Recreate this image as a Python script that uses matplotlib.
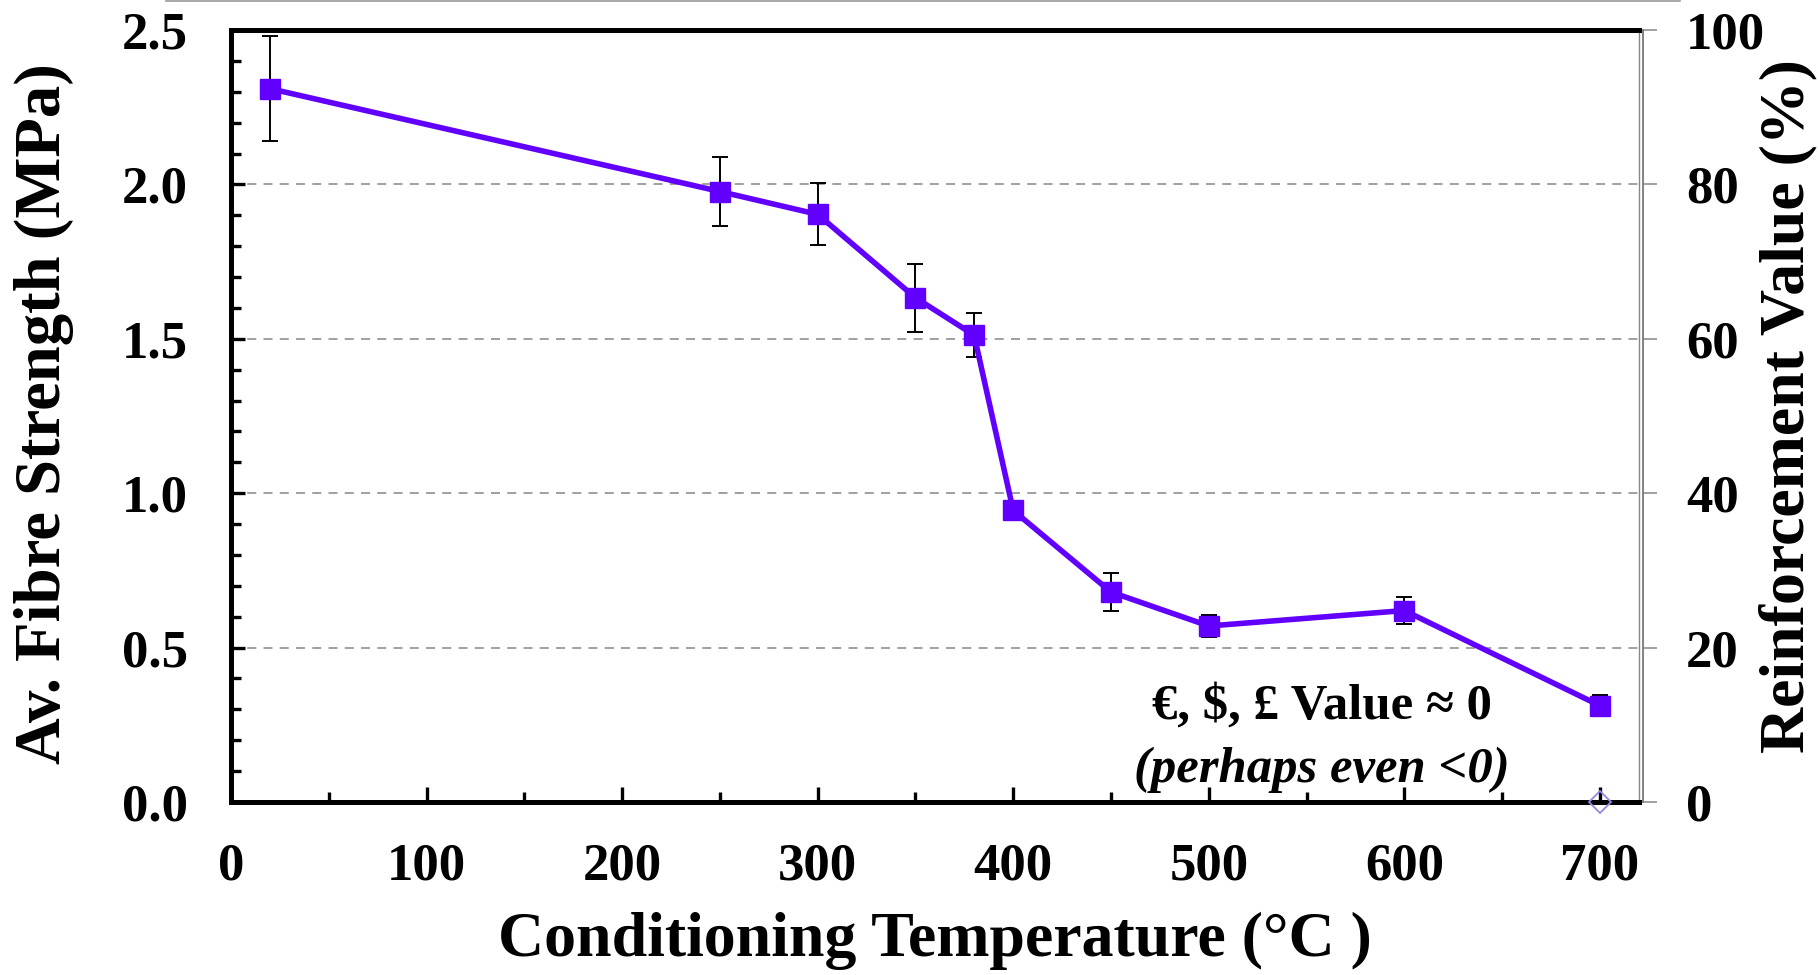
import matplotlib
matplotlib.use("Agg")
import matplotlib.pyplot as plt
from matplotlib.ticker import MultipleLocator
from matplotlib.lines import Line2D

temperature = [20, 250, 300, 350, 380, 400, 450, 500, 600, 700]
strength = [2.31, 1.977, 1.903, 1.633, 1.512, 0.944, 0.680, 0.570, 0.620, 0.312]
strength_err = [0.17, 0.113, 0.10, 0.11, 0.071, 0.03, 0.06, 0.035, 0.045, 0.035]
value_x = [700]
value_pct = [0]

x_ticks = [0, 100, 200, 300, 400, 500, 600, 700]
y_ticks = [0.0, 0.5, 1.0, 1.5, 2.0, 2.5]
y2_ticks = [0, 20, 40, 60, 80, 100]

plt.rcParams['font.family'] = ['Liberation Serif', 'DejaVu Serif']
plt.rcParams['font.weight'] = 'bold'

W, H = 1818, 975
fig = plt.figure(figsize=(W / 100, H / 100), dpi=100)
L, R, B, T = 231, 1639, 802, 30
ax = fig.add_axes([L / W, 1 - B / H, (R - L) / W, (B - T) / H])

purple = '#6200ff'
ax.errorbar(temperature, strength, yerr=strength_err, color=purple, lw=4.0,
            marker='s', ms=15, mec=purple, mfc=purple,
            ecolor='black', elinewidth=1.4, capsize=5.5, capthick=1.4, zorder=3)

ax.set_xlim(0, 720)
ax.set_ylim(0, 2.5)
ax.set_xticks(x_ticks)
ax.set_xticklabels([str(v) for v in x_ticks])
ax.xaxis.set_minor_locator(MultipleLocator(50))
ax.set_yticks(y_ticks)
ax.set_yticklabels([f"{v:.1f}" for v in y_ticks])
ax.yaxis.set_minor_locator(MultipleLocator(0.1))

ax.tick_params(axis='both', which='major', direction='in', labelsize=38,
               width=2.4, color='black')
ax.tick_params(axis='x', which='major', length=11, pad=29)
ax.tick_params(axis='y', which='major', length=10, pad=31)
ax.tick_params(axis='x', which='minor', direction='in', length=7, width=2.4)
ax.tick_params(axis='y', which='minor', direction='in', length=7, width=2.4)
ax.tick_params(top=False, right=False, which='both')

for s in ['left', 'bottom', 'top']:
    ax.spines[s].set_linewidth(3.6)
    ax.spines[s].set_color('black')
    ax.spines[s].set_zorder(4)
ax.spines['right'].set_linewidth(1.0)
ax.spines['right'].set_color('#888888')

for gy in [0.5, 1.0, 1.5, 2.0]:
    ax.axhline(gy, color='#999999', lw=1.3, ls=(0, (5, 4)), zorder=1)

ax2 = ax.twinx()
ax2.set_ylim(0, 100)
ax2.set_yticks(y2_ticks)
ax2.set_yticklabels([str(v) for v in y2_ticks])
ax2.tick_params(axis='y', direction='out', length=10, width=1.3, color='#999999',
                labelsize=38, pad=21)
for s in ['left', 'bottom', 'top']:
    ax2.spines[s].set_visible(False)
ax2.spines['right'].set_position(('outward', 3))
ax2.spines['right'].set_color('#777777')
ax2.spines['right'].set_linewidth(1.3)
ax2.plot(value_x, value_pct, ls='none', marker='D', ms=11, mfc='none',
         mec='#9a84e4', mew=1.3, clip_on=False, zorder=1)

ax.text(558, 0.31, "€, $, £ Value ≈ 0", ha='center', va='center',
        fontsize=36.5, fontweight='bold')
ax.text(558, 0.103, "(perhaps even <0)", ha='center', va='center',
        fontsize=36.5, fontweight='bold', style='italic')

fig.text(44 / W, 1 - 414 / H, "Av. Fibre Strength (MPa)", rotation=90,
         ha='center', va='center', fontsize=46.5, fontweight='bold')
fig.text(1788 / W, 1 - 406 / H, "Reinforcement Value (%)", rotation=90,
         ha='center', va='center', fontsize=46, fontweight='bold')
fig.text(935 / W, 1 - 941 / H, "Conditioning Temperature (°C )",
         ha='center', va='center', fontsize=46, fontweight='bold')

fig.add_artist(Line2D([166 / W, 1680 / W], [1 - 1 / H, 1 - 1 / H],
                      transform=fig.transFigure, color='#999999', lw=1.2))

fig.savefig("out.png", dpi=100)
